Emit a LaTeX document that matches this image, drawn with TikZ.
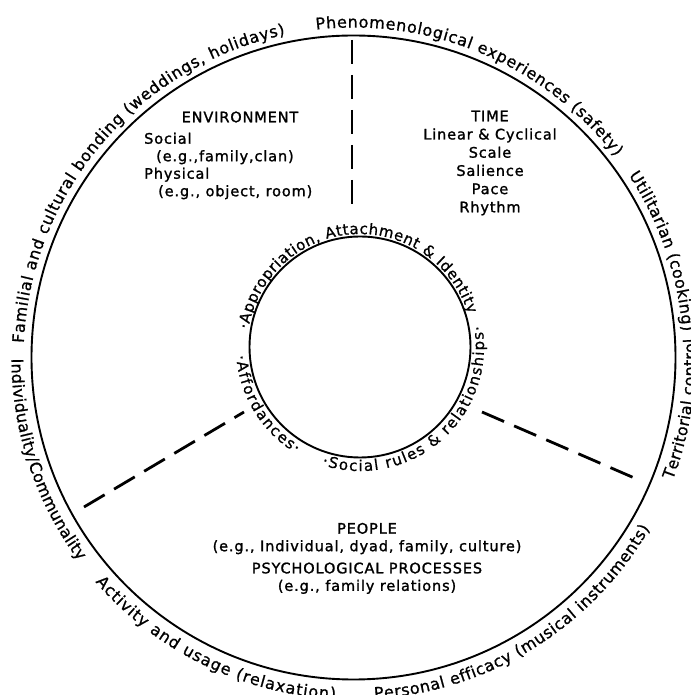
\documentclass[tikz,border=0pt]{standalone}
\usepackage{fontspec}
\setmainfont{DejaVu Sans}
\newfontfamily\bodyfont[LetterSpace=6, FakeBold=1.4]{DejaVu Sans}
\newfontfamily\ringfont[FakeBold=0.9]{DejaVu Sans}
\usepackage{tikz}
\usetikzlibrary{positioning,decorations.text}
\newcommand\outersize{\ringfont\fontsize{16bp}{18bp}\selectfont}
\newcommand\innersize{\ringfont\fontsize{15bp}{18bp}\selectfont}

\begin{document}
\begin{tikzpicture}[
  x=1bp, y=1bp,
  ring/.style={line width=1.9bp, black},
  divider/.style={line width=2.8bp, black, dash pattern=on 24bp off 11bp},
  block/.style={font=\bodyfont\fontsize{14.5bp}{17.5bp}\selectfont, inner sep=0pt},
  outertext/.style={decorate, decoration={text along path, text={|\outersize|#1}, text align={fit to path}}},
  innertext/.style={decorate, decoration={text along path, text={|\innersize|#1}, text align={fit to path}}}
]
\useasboundingbox (0,0) rectangle (691,695);
% ---- centres and circles ----
\coordinate (co) at (353.5,337.5);
\coordinate (ci) at (360,348);
\draw[ring] (co) circle[radius=322];
\draw[ring] (ci) circle[radius=110.5];
% ---- dashed dividers ----
\coordinate (topout) at (352,655);
\coordinate (topin) at (352,484);
\coordinate (leftout) at (84,188);
\coordinate (leftin) at (244,283);
\coordinate (rightin) at (482,283);
\coordinate (rightout) at (639,215);
\draw[divider] (topout) -- (topin);
\draw[divider] (leftout) -- (leftin);
\draw[divider] (rightin) -- (rightout);
% ---- outer ring labels: upper ones clockwise, lower ones counter-clockwise ----
\path[outertext={Familial and cultural bonding (weddings, holidays)}]
  ([shift={(177.5:330)}]co) arc[start angle=177.5, end angle=102, radius=330];
\path[outertext={Phenomenological experiences (safety)}]
  ([shift={(96.5:330)}]co) arc[start angle=96.5, end angle=37.5, radius=330];
\path[outertext={Utilitarian (cooking)}]
  ([shift={(33.5:330)}]co) arc[start angle=33.5, end angle=4.5, radius=330];
\path[outertext={Territorial control}]
  ([shift={(-21:342)}]co) arc[start angle=-21, end angle=3.2, radius=342];
\path[outertext={Personal efficacy (musical instruments)}]
  ([shift={(-86.5:342)}]co) arc[start angle=-86.5, end angle=-30, radius=342];
\path[outertext={Activity and usage (relaxation)}]
  ([shift={(-139:342)}]co) arc[start angle=-139, end angle=-93, radius=342];
\path[outertext={Individuality/Communality}]
  ([shift={(180.2:342)}]co) arc[start angle=180.2, end angle=216.5, radius=342];
% ---- inner ring labels ----
\path[innertext={·Appropriation, Attachment {\&} Identity}]
  ([shift={(171:113)}]ci) arc[start angle=171, end angle=17, radius=113];
\path[innertext={·Affordances·}]
  ([shift={(184:124)}]ci) arc[start angle=184, end angle=239, radius=124];
\path[innertext={·Social rules {\&} relationships·}]
  ([shift={(252:124)}]ci) arc[start angle=252, end angle=370, radius=124];
% ---- sector texts ----
\node[block] (envhead) at (240,578) {ENVIRONMENT};
\node[block, align=left, anchor=north west] (envbody) at (144,562.5)
  {Social\\ \hspace*{12bp}(e.g.,family,clan)\\ Physical\\ \hspace*{14bp}(e.g., object, room)};
\node[block, align=center, anchor=north, font=\bodyfont\fontsize{14.5bp}{18.2bp}\selectfont] (timebody) at (490,584.5)
  {TIME\\ Linear \& Cyclical\\ Scale\\ Salience\\ Pace\\ Rhythm};
\node[block, align=center, anchor=north] (people) at (367,172.3)
  {PEOPLE\\ (e.g., Individual, dyad, family, culture)};
\node[block, align=center, below=8bp of people] (psych)
  {PSYCHOLOGICAL PROCESSES\\ (e.g., family relations)};
\end{tikzpicture}
\end{document}
